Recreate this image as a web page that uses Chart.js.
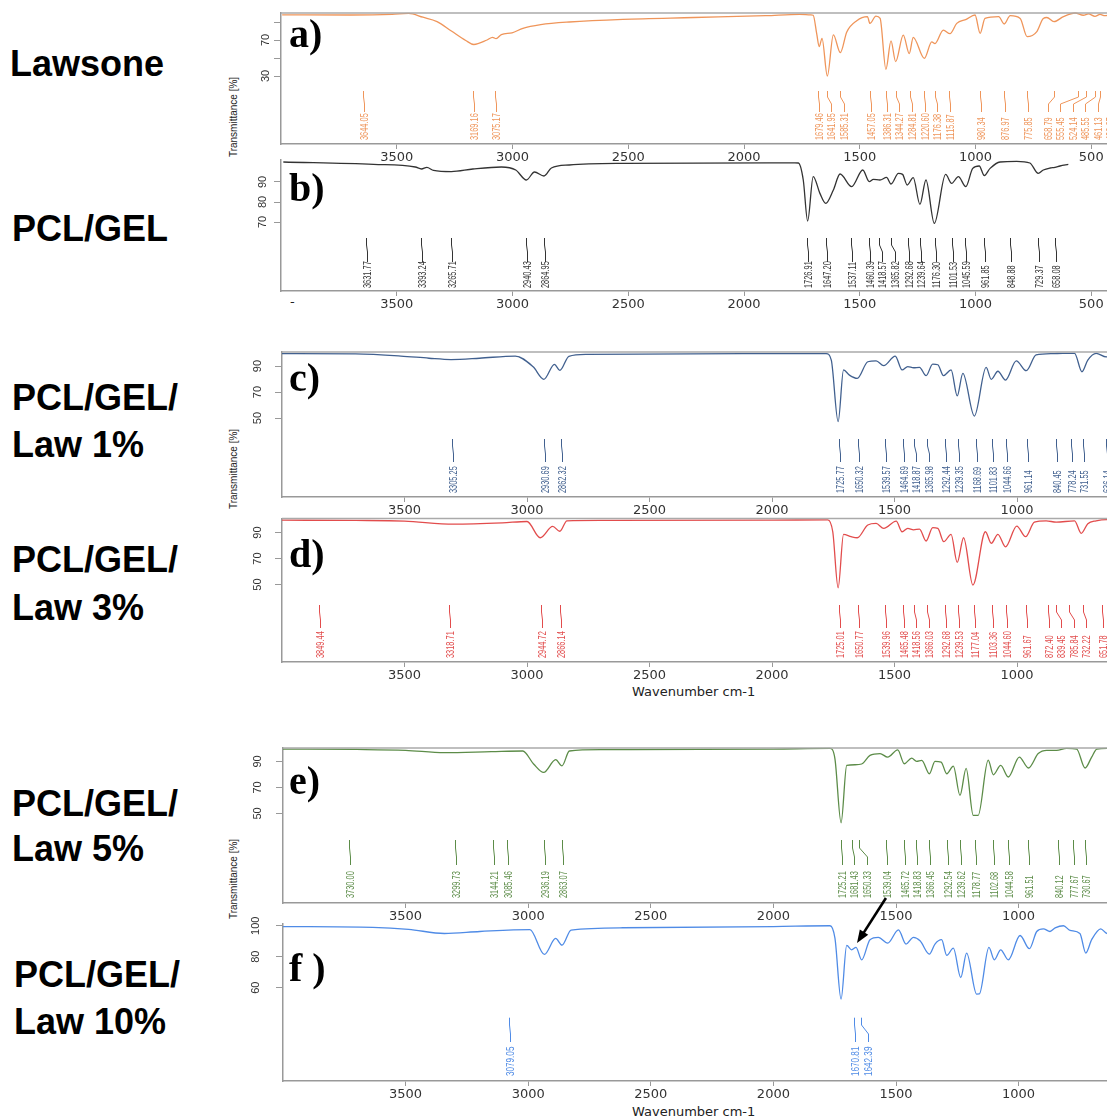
<!DOCTYPE html>
<html><head><meta charset="utf-8">
<script src="https://cdn.jsdelivr.net/npm/chart.js@4/dist/chart.umd.min.js"></script>
<style>
html,body{margin:0;padding:0;background:#fff;}
body{width:1107px;height:1120px;overflow:hidden;position:relative;}
.cv{position:absolute;}
.lbl{position:absolute;left:10px;font:bold 36px "Liberation Sans",Arial,sans-serif;color:#000;white-space:nowrap;}
.let{position:absolute;left:289px;font:bold 40px "Liberation Serif","Times New Roman",serif;color:#000;line-height:40px;white-space:nowrap;}
.ytitle{position:absolute;width:100px;height:12px;line-height:12px;text-align:center;font:10px "Liberation Sans",Arial,sans-serif;color:#222;transform:rotate(-90deg);white-space:nowrap;}
.xtitle{position:absolute;font:13px "DejaVu Sans",sans-serif;color:#222;white-space:nowrap;}
</style>
</head><body>
<div class="lbl" style="top:40px;line-height:47px">Lawsone</div>
<div class="lbl" style="top:205px;line-height:47px;left:12px">PCL/GEL</div>
<div class="lbl" style="top:374px;line-height:47px;left:12px">PCL/GEL/<br>Law 1%</div>
<div class="lbl" style="top:536px;line-height:48px;left:12px">PCL/GEL/<br>Law 3%</div>
<div class="lbl" style="top:781px;line-height:45px;left:12px">PCL/GEL/<br>Law 5%</div>
<div class="lbl" style="top:951px;line-height:47px;left:14px">PCL/GEL/<br>Law 10%</div>

<div class="ytitle" style="left:184px;top:111px">Transmittance [%]</div>
<div class="ytitle" style="left:184px;top:463px">Transmittance [%]</div>
<div class="ytitle" style="left:184px;top:873px">Transmittance [%]</div>
<div class="xtitle" style="left:632px;top:684px">Wavenumber cm-1</div>
<div class="xtitle" style="left:632px;top:1104px">Wavenumber cm-1</div>
<div class="xtitle" style="left:290px;top:294px">-</div>

<script>
// ---------------- DATA ----------------
const xTicks = [3500, 3000, 2500, 2000, 1500, 1000, 500];

const lawsoneWave = [3995,3700,3520,3449,3387,3326,3264,3202,3167,3110,3086,3071,3048,3002,2955,2878,2755,2523,2216,1906,1760,1712,1701,1686,1675,1663,1640,1614,1584,1556,1513,1467,1456,1430,1412,1387,1365,1345,1312,1286,1269,1221,1189,1175,1139,1110,1081,1040,1002,980,959,900,876,850,807,777,736,707,692,661,620,570,534,512,484,462,441,420];
const lawsoneT    = [98,97.8,98.5,99.5,95.3,90.5,80,69.5,65,70,73,71.5,76,78,83,87,90,93,95,97,98.5,98,97.5,77,62.6,71.9,30,75.6,56,79,91.5,96,88.5,96.5,94,37.4,69,46,75.5,55,73,49.6,68,66,81,77,88.5,93,97.8,77.4,94,96,87.8,97,94,73.7,79,94,95,90.4,96,100,97.5,99,96.3,98.5,97,98];
const lawsonePeaks = [3644.05,3169.16,3075.17,1679.46,1641.95,1585.31,1457.05,1386.31,1344.27,1284.81,1220.60,1176.38,1115.87,980.34,876.97,775.85,658.79,555.45,524.14,485.55,461.13,430.27];

const pclGelWave = [3990,3600,3420,3393,3370,3341,3264,3171,3048,2986,2940,2905,2864,2832,2755,2523,1780,1765,1744,1725,1701,1672,1647,1614,1585,1535,1487,1459,1441,1413,1384,1365,1333,1315,1295,1269,1240,1214,1178,1129,1103,1074,1042,1012,984,962,937,894,822,765,729,707,678,657,635,599];
const pclGelT    = [100,98.8,97.5,96.5,97.3,95.8,95.2,96.5,97.5,96,91,95,93,97,98.5,99.3,99.6,99.5,91,70.5,92.7,84.3,79.3,86,94,87.7,96,90.2,91.3,91,92.3,89,94.3,93.8,88.5,92.2,78.8,91,69.3,93.8,89.3,92.7,87.7,96.8,98,93.2,96.8,100,100.3,99.5,94.3,96,97,97.3,98,98.8];
const pclGelPeaks = [3631.77,3393.24,3265.71,2940.43,2864.95,1726.91,1647.20,1537.11,1460.39,1418.57,1365.82,1292.68,1239.64,1176.30,1101.53,1045.59,961.85,848.88,729.37,658.08];

const law1Wave = [4000,3700,3515,3400,3310,3194,3048,2975,2931,2888,2866,2829,2757,2000,1779,1758,1730,1708,1684,1652,1609,1575,1544,1497,1469,1446,1422,1398,1371,1344,1323,1300,1269,1244,1221,1174,1126,1105,1078,1047,1003,962,922,854,813,765,735,711,677,636,600];
const law1T    = [99.5,99.3,97.7,96,95,96,97.7,89.4,79.8,91.3,86.6,97.5,99,99.5,99.6,94.6,47.2,87,83,80.5,93.3,94,90.3,97.7,87,89.6,88.7,89,82.6,91.5,91,82.6,87,67,84.4,51.5,89,79.8,86,79.2,94,86.4,98.5,99.5,99.8,99.8,85.6,94.6,99.8,97,98];
const law1Peaks = [3305.25,2930.69,2862.32,1725.77,1650.32,1539.57,1464.69,1418.87,1365.98,1292.44,1239.35,1168.69,1101.83,1044.66,961.14,840.45,778.24,731.55,636.14];

const law3Wave = [4000,3700,3500,3300,3100,3000,2946,2895,2866,2837,2700,2000,1772,1752,1730,1708,1677,1652,1609,1575,1544,1493,1469,1446,1422,1398,1371,1344,1323,1299,1269,1244,1218,1180,1129,1105,1078,1047,1001,965,929,881,840,765,738,711,677,635,600];
const law3T    = [99.5,99.3,98.8,96.5,97.5,98.5,86,94.7,91,99,99.3,99.5,99.8,90.6,47.5,88.6,86.8,86,95.8,97,93.2,98.8,90.6,93.2,92,92.7,83.5,93.8,93.2,83,88.6,67,86,49.6,90.6,81.7,88.6,79,95,86.8,98,99,98,99,89.4,96.8,99,100,99];
const law3Peaks = [3849.44,3318.71,2944.72,2866.14,1725.01,1650.77,1539.96,1465.48,1418.56,1366.03,1292.68,1239.53,1177.04,1103.36,1044.60,961.67,872.40,839.45,785.84,732.22,651.78];

const law5Wave = [4000,3700,3500,3342,3150,3022,2978,2937,2888,2862,2832,2700,2000,1769,1749,1724,1701,1667,1640,1606,1565,1534,1493,1466,1436,1416,1395,1364,1341,1316,1293,1266,1239,1214,1185,1165,1124,1103,1073,1042,997,960,920,885,845,804,763,729,702,681,639,600];
const law5T    = [99.5,99.2,98.5,96.7,97.5,98,88,81.5,91.3,86.6,98,99,99.5,100,92,42.8,87,87.4,88,94.6,96,93.3,98.8,88.2,92.5,90,90.8,80.5,90,89.5,80.5,86.4,63.8,84.6,48.5,48.5,91,79.7,87,78,93.3,84.9,96,98.5,98.5,100,99.5,84.9,93.3,99.5,100,99.5];
const law5Peaks = [3730.00,3299.73,3144.21,3085.46,2936.19,2863.07,1725.21,1681.43,1650.33,1539.04,1465.72,1418.83,1366.45,1292.54,1239.62,1178.77,1102.68,1044.58,961.51,840.12,777.67,730.67];

const law10Wave = [4000,3634,3488,3342,3197,2993,2934,2888,2862,2825,2614,2000,1769,1749,1724,1701,1681,1663,1640,1606,1572,1534,1490,1459,1429,1402,1364,1341,1314,1293,1266,1236,1212,1171,1160,1121,1099,1073,1042,994,956,926,899,872,851,817,790,750,726,702,665,639,600];
const law10T    = [99.5,99,97.7,95,96.3,97.5,81.5,91.8,87.5,97.2,98.7,99.5,100,92,52.7,87.3,84.5,86,78,91,92.5,88.8,97.4,88.2,92.5,90.3,81.7,88.2,91,80.9,85.6,66.6,82.4,55.9,56,86,78,84.5,78,93.7,85.2,96.3,98,96.3,98.6,100,97,95,82.4,91,98,95,97];
const law10Peaks = [3079.05,1670.81,1642.39];

const yTicksA = [90,70,50,30], yLabelsA = [70,30];
const yTicksB = [90,80,70];
const yTicksCDE = [90,70,50];
const yTicksF = [100,80,60];

// arrow annotation in panel f (wavenumber, transmittance)
const arrowFrom = [1541, 117.9], arrowTo = [1659, 88.8];

// ---------------- LAYOUT / STYLE ----------------
const panels = [
 {key:'a', wave:lawsoneWave, T:lawsoneT, peaks:lawsonePeaks, color:'#EF955A', canvasTop:0, areaTop:13, areaBottom:144, left:281, right:1110, pxPerCm:0.2315, yMax:100, pxPerPct:0.9, yTicks:yTicksA, yLabels:yLabelsA, yLabelX:266, marks:[91,97,104,112,140], topFrame:true, gap:12.5, fs:10},
 {key:'b', wave:pclGelWave, T:pclGelT, peaks:pclGelPeaks, color:'#333333', canvasTop:148, areaTop:160, areaBottom:291, left:281, right:1110, pxPerCm:0.2315, yMax:101, pxPerPct:2, yTicks:yTicksB, yLabels:yTicksB, yLabelX:263, marks:[238,245,252,262,288], topFrame:false, gap:12.5, fs:10},
 {key:'c', wave:law1Wave, T:law1T, peaks:law1Peaks, color:'#41608F', canvasTop:340, areaTop:352, areaBottom:497, left:282, right:1120, pxPerCm:0.245, yMax:100.8, pxPerPct:1.3, yTicks:yTicksCDE, yLabels:yTicksCDE, yLabelX:258, marks:[439,446,454,462,493], topFrame:true, gap:12.5, fs:10},
 {key:'d', wave:law3Wave, T:law3T, peaks:law3Peaks, color:'#E24C4C', canvasTop:506, areaTop:518.5, areaBottom:661.7, left:282, right:1120, pxPerCm:0.245, yMax:100.8, pxPerPct:1.3, yTicks:yTicksCDE, yLabels:yTicksCDE, yLabelX:258, marks:[605,612,620,628,658], topFrame:true, gap:12.5, fs:10},
 {key:'e', wave:law5Wave, T:law5T, peaks:law5Peaks, color:'#5C8C48', canvasTop:736, areaTop:748, areaBottom:903, left:283, right:1120, pxPerCm:0.2452, yMax:100.3, pxPerPct:1.3, yTicks:yTicksCDE, yLabels:yTicksCDE, yLabelX:258, marks:[840,848,857,865,898], topFrame:true, gap:12.7, fs:10},
 {key:'f', wave:law10Wave, T:law10T, peaks:law10Peaks, color:'#4F8BE6', canvasTop:890, areaTop:924.2, areaBottom:1080.7, left:283, right:1120, pxPerCm:0.2452, yMax:101, pxPerPct:1.55, yTicks:yTicksF, yLabels:yTicksF, yLabelX:256, marks:[1017.7,1025,1034,1042,1076], topFrame:false, gap:13.3, fs:11, arrow:true}
];

function spread(xs, gap, bound){
  const p = xs.slice();
  for (let i=1;i<p.length;i++) if (p[i] < p[i-1]+gap) p[i] = p[i-1]+gap;
  const n = p.length;
  if (n && p[n-1] > bound){
    p[n-1] = bound;
    for (let i=n-2;i>=0;i--) if (p[i] > p[i+1]-gap) p[i] = p[i+1]-gap;
  }
  return p;
}

function decor(p){
  return {
    id:'decor_'+p.key,
    afterDatasetsDraw(chart){
      const ctx = chart.ctx, a = chart.chartArea, x = chart.scales.x, y = chart.scales.y;
      const off = p.canvasTop;
      ctx.save();
      if (p.topFrame){
        ctx.strokeStyle = '#aaaaaa'; ctx.lineWidth = 1.6;
        ctx.beginPath(); ctx.moveTo(a.left, a.top); ctx.lineTo(a.right, a.top); ctx.stroke();
      }
      // rotated y tick labels
      ctx.fillStyle = '#333'; ctx.font = '11px "Liberation Sans", Arial, sans-serif';
      ctx.textAlign = 'center'; ctx.textBaseline = 'middle';
      p.yLabels.forEach(v => {
        const yy = y.getPixelForValue(v);
        ctx.save(); ctx.translate(p.yLabelX - 200, yy); ctx.rotate(-Math.PI/2);
        ctx.fillText(String(v), 0, 0); ctx.restore();
      });
      // peak markers
      const px = p.peaks.map(w => Math.round(x.getPixelForValue(w)) + 0.5);
      const lx = spread(px, p.gap, a.right).map(v => Math.round(v) + 0.5);
      const m = p.marks.map(v => v - off);
      ctx.strokeStyle = p.color; ctx.fillStyle = p.color; ctx.lineWidth = 1;
      ctx.font = p.fs + 'px "Liberation Sans Narrow", "Liberation Sans", Arial, sans-serif';
      p.peaks.forEach((w, i) => {
        ctx.beginPath();
        ctx.moveTo(px[i], m[0]); ctx.lineTo(px[i], m[1]);
        ctx.lineTo(lx[i], m[2]); ctx.lineTo(lx[i], m[3]);
        ctx.stroke();
        ctx.save(); ctx.translate(lx[i], m[4]); ctx.rotate(-Math.PI/2);
        ctx.scale(0.74, 1);
        ctx.textAlign = 'left'; ctx.textBaseline = 'middle';
        ctx.fillText(w.toFixed(2), 0, 0.5); ctx.restore();
      });
      if (p.arrow){
        const x0 = x.getPixelForValue(arrowFrom[0]), y0 = y.getPixelForValue(arrowFrom[1]);
        const x1 = x.getPixelForValue(arrowTo[0]), y1 = y.getPixelForValue(arrowTo[1]);
        const ang = Math.atan2(y1 - y0, x1 - x0), L = 13, hw = 5;
        ctx.strokeStyle = '#000'; ctx.fillStyle = '#000'; ctx.lineWidth = 2.6;
        ctx.beginPath(); ctx.moveTo(x0, y0);
        ctx.lineTo(x1 - L*0.8*Math.cos(ang), y1 - L*0.8*Math.sin(ang)); ctx.stroke();
        ctx.beginPath(); ctx.moveTo(x1, y1);
        ctx.lineTo(x1 - L*Math.cos(ang) + hw*Math.sin(ang), y1 - L*Math.sin(ang) - hw*Math.cos(ang));
        ctx.lineTo(x1 - L*Math.cos(ang) - hw*Math.sin(ang), y1 - L*Math.sin(ang) + hw*Math.cos(ang));
        ctx.closePath(); ctx.fill();
      }
      ctx.restore();
    }
  };
}

function makeChart(p){
  const W = p.right - 200, H = Math.round(p.areaBottom + 30 - p.canvasTop);
  const cv = document.createElement('canvas');
  cv.className = 'cv'; cv.width = W; cv.height = H;
  cv.style.left = '200px'; cv.style.top = p.canvasTop + 'px';
  cv.style.width = W + 'px'; cv.style.height = H + 'px';
  document.body.appendChild(cv);
  const bottom = p.canvasTop + H - 30;
  const xMin = 4000 - (p.right - p.left) / p.pxPerCm;
  const yMin = p.yMax - (bottom - p.areaTop) / p.pxPerPct;
  new Chart(cv, {
    type: 'line',
    data: { datasets: [{
      data: p.wave.map((w, i) => ({ x: w, y: p.T[i] })),
      borderColor: p.color, borderWidth: 1.3, pointRadius: 0,
      cubicInterpolationMode: 'monotone', fill: false, clip: false
    }]},
    options: {
      responsive: false, animation: false, devicePixelRatio: 1, events: [],
      layout: { autoPadding: false, padding: { top: p.areaTop - p.canvasTop, left: 0, right: 0, bottom: 0 } },
      plugins: { legend: { display: false }, tooltip: { enabled: false } },
      scales: {
        x: {
          type: 'linear', reverse: true, min: xMin, max: 4000,
          afterBuildTicks: s => { s.ticks = xTicks.filter(v => v >= xMin && v <= 4000).map(v => ({ value: v })); },
          afterFit: s => { s.height = 30; },
          ticks: { autoSkip: false, maxRotation: 0, minRotation: 0, color: '#333', padding: 1,
                   font: { family: 'DejaVu Sans', size: 13 }, callback: v => String(v) },
          grid: { drawOnChartArea: false, drawTicks: true, tickLength: 5, color: '#999', lineWidth: 1 },
          border: { display: true, color: '#999', width: 1.5 }
        },
        y: {
          type: 'linear', min: yMin, max: p.yMax,
          afterBuildTicks: s => { s.ticks = p.yTicks.map(v => ({ value: v })); },
          afterFit: s => { s.width = p.left - 200; },
          ticks: { callback: () => '' },
          grid: { drawOnChartArea: false, drawTicks: true, tickLength: 7, color: '#999', lineWidth: 1 },
          border: { display: true, color: '#999', width: 1.5 }
        }
      }
    },
    plugins: [decor(p)]
  });
}

panels.forEach(makeChart);
</script>

<div class="let" style="top:14px">a)</div>
<div class="let" style="top:168px">b)</div>
<div class="let" style="top:358px">c)</div>
<div class="let" style="top:534px">d)</div>
<div class="let" style="top:761px">e)</div>
<div class="let" style="top:948px">f )</div>
</body></html>
